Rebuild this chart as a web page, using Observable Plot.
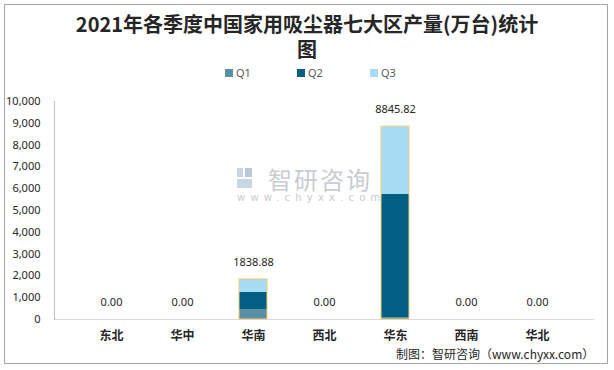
<!DOCTYPE html>
<html><head><meta charset="utf-8">
<script src="https://cdn.jsdelivr.net/npm/d3@7"></script>
<script src="https://cdn.jsdelivr.net/npm/@observablehq/plot@0.6"></script>
<style>
body{margin:0;background:#fff;font-family:"Noto Sans CJK SC","Noto Sans",sans-serif;}
#wrap{position:relative;width:614px;height:370px;overflow:hidden;}
#border{position:absolute;left:4px;top:4px;width:604px;height:360px;border:1px solid #a6a6a6;box-sizing:border-box;}
#head{position:relative;height:90px;}
.tl{position:absolute;left:0;width:614px;text-align:center;font-size:20px;font-weight:bold;line-height:22px;color:#262626;font-family:"Noto Sans CJK SC",serif;}
.leg{position:absolute;top:65px;font-size:11px;color:#595959;display:flex;align-items:center;font-family:"Noto Sans",sans-serif;}
.leg span.sw{display:inline-block;width:8px;height:8px;margin-right:3px;}
#wm1{position:absolute;left:268px;top:167px;font-size:24px;line-height:24px;color:#c9ccd0;letter-spacing:2px;}
#wm2{position:absolute;left:237px;top:192px;font-size:10px;line-height:11px;color:#c9ccd0;letter-spacing:5.2px;font-family:"DejaVu Sans",sans-serif;}
#logo{position:absolute;left:237px;top:168px;width:15px;height:20px;}
#foot{position:absolute;left:396px;top:345px;font-size:12px;color:#262626;}
#chart{position:absolute;left:0;top:90px;}
</style></head>
<body>
<div id="wrap">
<div id="border"></div>
<div id="head">
<div class="tl" style="top:13px">2021年各季度中国家用吸尘器七大区产量(万台)统计</div>
<div class="tl" style="top:38px">图</div>
</div>
<div id="logo"><div style="position:absolute;left:0;top:0;width:6px;height:9px;background:#c9d6e3"></div><div style="position:absolute;left:8px;top:0;width:7px;height:9px;background:#b9c9da"></div><div style="position:absolute;left:0;top:11px;width:15px;height:9px;background:#c9d6e3"></div></div>
<div id="wm1">智研咨询</div>
<div id="wm2">www.chyxx.com</div>
<div id="chart"></div>
<div id="foot">制图：智研咨询（www.chyxx.com）</div>
</div>
<script>
const regions = ["东北","华中","华南","西北","华东","西南","华北"];
const quarters = ["Q1","Q2","Q3"];
const q1 = [0,0,460,0,70,0,0];
const q2 = [0,0,780,0,5664,0,0];
const q3 = [0,0,598.88,0,3111.82,0,0];
const totals = [0,0,1838.88,0,8845.82,0,0];
const colors = ["#5a8fa6","#005f82","#a6ddf5"];
const yTicks = [0,1000,2000,3000,4000,5000,6000,7000,8000,9000,10000];

const series = [q1,q2,q3];
const rows = [];
quarters.forEach((q,qi)=>regions.forEach((r,ri)=>rows.push({region:r,quarter:q,value:series[qi][ri]})));
const tot = regions.map((r,i)=>({region:r,total:totals[i]}));

// legend
const legX = [225,297,370];
const head = document.getElementById("head");
quarters.forEach((q,i)=>{
  const d = document.createElement("div");
  d.className = "leg"; d.style.left = legX[i]+"px";
  d.innerHTML = `<span class="sw" style="background:${colors[i]}"></span>${q}`;
  head.appendChild(d);
});

const chart = Plot.plot({
  width: 614,
  height: 280,
  marginTop: 11,
  marginBottom: 51,
  marginLeft: 54,
  marginRight: 20,
  style: {fontFamily: "'Noto Sans','Noto Sans CJK SC',sans-serif", fontSize: "11px", color: "#404040", background: "transparent", overflow: "visible"},
  x: {domain: regions, padding: 0.6, label: null},
  y: {domain: [0,10000], label: null},
  color: {domain: quarters, range: colors},
  marks: [
    Plot.ruleY([0], {stroke: "#d9d9d9", strokeWidth: 1}),
    Plot.barY(rows, {x: "region", y: "value", fill: "quarter", order: quarters}),
    Plot.barY(tot, {x: "region", y: "total", fill: "none", stroke: "#f3cd72", strokeWidth: 1, inset: 0}),
    Plot.text(tot, {x: "region", y: "total", text: d => d3.format(".2f")(d.total), dy: -17, fill: "#262626", fontSize: 11}),
    Plot.axisY({ticks: yTicks, tickFormat: d3.format(","), tickSize: 0, tickPadding: 14, fontSize: 11, fill: "#262626"}),
    Plot.frame({anchor: "left", stroke: "#bfbfbf"}),
    Plot.axisX({tickSize: 0, tickPadding: 12, fontSize: 12, fill: "#262626", fontWeight: "bold"})
  ]
});
document.getElementById("chart").appendChild(chart);
</script>
</body></html>
